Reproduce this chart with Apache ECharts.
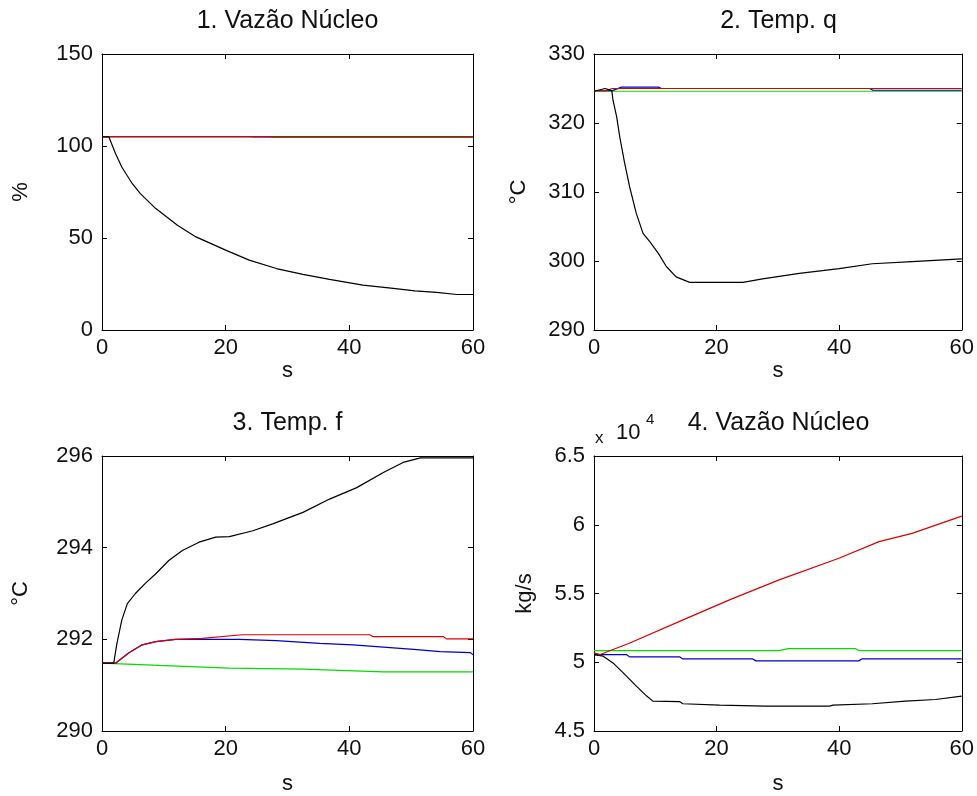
<!DOCTYPE html>
<html>
<head>
<meta charset="utf-8">
<script src="https://cdn.jsdelivr.net/npm/echarts@6/dist/echarts.min.js"></script>
<style>
html,body{margin:0;padding:0;background:#fff;}
#chart{width:977px;height:796px;}
</style>
</head>
<body>
<div id="chart"></div>
<script>
// ---- Data (time in s) ----
const titles = ['1. Vazão Núcleo', '2. Temp. q', '3. Temp. f', '4. Vazão Núcleo'];
const yNames = ['%', '°C', '°C', 'kg/s'];
const xName = 's';
const xTicks = [0, 20, 40, 60];
const yRanges = [[0, 150, 50], [290, 330, 10], [290, 296, 2], [45000, 65000, 5000]];

// Plot 1: core flow (%)
const p1Black = [[0,105],[1.1,105],[2.2,95.8],[3.2,88.6],[4.9,79.5],[6.2,74.1],[8.7,66],[12.2,56.9],[15.2,50.6],[20,43.4],[23.8,38],[28.2,33.4],[32.5,30.2],[36.8,27.5],[42.2,24.4],[47.1,22.6],[50.6,21.3],[54.1,20.4],[57.4,19.3],[60,19.3]];
const p1Blue = [[0,105.1],[24,105.1],[24.5,104.9],[27,104.9],[27.5,105.1],[60,105.1]];
const p1Red = [[0,105.1],[60,105.1]];
const p1Green = [[0,105.1],[27,105.1],[27.5,104.7],[60,104.7]];

// Plot 2: temperature q (°C)
const p2Black = [[0,324.6],[1.8,325],[2.9,324.7],[3.1,323.3],[3.7,320.9],[4.2,318],[5,314.2],[5.8,310.8],[6.9,306.9],[8,304],[9.1,302.8],[10.5,301.1],[11.8,299.2],[13.4,297.7],[15.6,296.9],[19.4,296.9],[24.3,296.9],[27.5,297.4],[33.5,298.2],[40,298.9],[45.4,299.6],[51.9,299.9],[60,300.3]];
const p2Blue = [[0,324.7],[3,324.7],[4.5,325.2],[10.5,325.2],[11,325.0],[45,325.0],[45.5,324.75],[60,324.75]];
const p2Red = [[0,324.7],[2,324.7],[3,325.0],[60,325.0]];
const p2Green = [[0,324.6],[60,324.6]];

// Plot 3: temperature f (°C)
const p3Black = [[0,291.48],[1.9,291.48],[2.4,291.9],[3.2,292.42],[4.1,292.78],[5.4,293.0],[7,293.22],[8.7,293.43],[10.8,293.72],[13,293.94],[15.7,294.12],[18.4,294.23],[20.6,294.24],[24.4,294.37],[27.6,294.52],[32.5,294.77],[36.8,295.06],[41.2,295.31],[45.5,295.64],[48.7,295.86],[51.5,295.96],[60,295.96]];
const p3Blue = [[0,291.48],[2.2,291.48],[4.3,291.7],[6.5,291.88],[8.7,291.95],[11.9,292.0],[16.2,292.0],[22.2,292.0],[28.2,291.97],[35.2,291.91],[40.6,291.88],[45.5,291.83],[50.4,291.78],[54.7,291.73],[59.6,291.71],[60,291.66]];
const p3Red = [[0,291.48],[2.2,291.48],[4.3,291.7],[6.5,291.88],[8.7,291.95],[11.9,292.0],[16.2,292.02],[22.7,292.1],[43.3,292.1],[43.8,292.06],[55.2,292.06],[55.7,292.01],[60,292.01]];
const p3Green = [[0,291.48],[9.2,291.43],[20.6,291.37],[32.5,291.35],[45.5,291.29],[60,291.29]];

// Plot 4: core flow (kg/s)
const p4Black = [[0,50560],[1.5,50440],[3.1,49950],[5.3,48990],[6.9,48260],[8.6,47540],[9.6,47170],[14,47130],[14.5,46980],[20.5,46880],[28,46810],[38.4,46810],[39,46880],[45.4,46980],[50.8,47170],[55.7,47290],[60,47540]];
const p4Blue = [[0,50560],[5.3,50560],[5.8,50390],[14,50390],[14.5,50240],[25.9,50240],[26.4,50100],[43.2,50100],[43.7,50240],[60,50240]];
const p4Red = [[0,50680],[1,50560],[5.85,51400],[13.97,52970],[22.1,54540],[30.2,55990],[39.96,57560],[46.5,58770],[51.9,59370],[60,60630]];
const p4Green = [[0,50850],[30.2,50850],[31.7,50990],[42.7,50990],[43.2,50850],[60,50850]];

const seriesData = [
  [p1Green, p1Blue, p1Red, p1Black],
  [p2Green, p2Blue, p2Red, p2Black],
  [p3Green, p3Blue, p3Red, p3Black],
  [p4Green, p4Blue, p4Red, p4Black]
];
const lineColors = ['#00dd00', '#0000cc', '#dd0000', '#000000'];

// ---- Layout ----
const FONT = 'Liberation Sans, Arial, sans-serif';
const grids = [
  {left: 102, top: 54, width: 371, height: 276},
  {left: 594, top: 54, width: 369, height: 276},
  {left: 102, top: 456, width: 371, height: 276},
  {left: 594, top: 456, width: 369, height: 276}
];
const xNameGaps = [30, 30, 42, 42];
const yNameGaps = [70, 64, 70, 58];

const xAxes = [], yAxes = [], series = [], graphics = [];
grids.forEach((g, i) => {
  const lineStyle = {color: '#000', width: 1};
  xAxes.push({
    type: 'value', gridIndex: i, min: 0, max: 60, interval: 20, position: 'bottom',
    name: xName, nameLocation: 'middle', nameGap: xNameGaps[i],
    nameTextStyle: {fontFamily: FONT, fontSize: 22, color: '#111'},
    axisLine: {show: true, onZero: false, lineStyle},
    axisTick: {show: true, inside: true, length: 5, lineStyle},
    axisLabel: {fontFamily: FONT, fontSize: 22, color: '#111', margin: 7, showMinLabel: true, showMaxLabel: true},
    splitLine: {show: false}
  });
  xAxes.push({
    type: 'value', gridIndex: i, min: 0, max: 60, interval: 20, position: 'top',
    axisLine: {show: true, onZero: false, lineStyle},
    axisTick: {show: true, inside: true, length: 5, lineStyle},
    axisLabel: {show: false}, splitLine: {show: false}
  });
  const r = yRanges[i];
  yAxes.push({
    type: 'value', gridIndex: i, min: r[0], max: r[1], interval: r[2], position: 'left',
    name: yNames[i], nameLocation: 'middle', nameGap: yNameGaps[i], nameRotate: 90,
    nameTextStyle: {fontFamily: FONT, fontSize: 22, color: '#111'},
    axisLine: {show: true, onZero: false, lineStyle},
    axisTick: {show: true, inside: true, length: 5, lineStyle},
    axisLabel: {fontFamily: FONT, fontSize: 22, color: '#111', margin: 9,
      formatter: i === 3 ? (v => String(Math.round(v / 1000) / 10)) : (v => String(v))},
    splitLine: {show: false}
  });
  yAxes.push({
    type: 'value', gridIndex: i, min: r[0], max: r[1], interval: r[2], position: 'right',
    axisLine: {show: true, onZero: false, lineStyle},
    axisTick: {show: true, inside: true, length: 5, lineStyle},
    axisLabel: {show: false}, splitLine: {show: false}
  });
  seriesData[i].forEach((d, k) => {
    series.push({
      type: 'line', xAxisIndex: 2 * i, yAxisIndex: 2 * i, data: d,
      showSymbol: false, symbol: 'none', animation: false, silent: true,
      lineStyle: {color: lineColors[k], width: 1.2}, z: 2 + k
    });
  });
  graphics.push({
    type: 'text', x: g.left + g.width / 2, y: g.top - 33,
    style: {text: titles[i], font: '25px ' + FONT, fill: '#111', align: 'center', verticalAlign: 'middle'}
  });
});

// exponent label for plot 4
graphics.push({type: 'text', x: 595, y: 438, style: {text: 'x', font: '17px ' + FONT, fill: '#111', align: 'left', verticalAlign: 'middle'}});
graphics.push({type: 'text', x: 616, y: 433, style: {text: '10', font: '22px ' + FONT, fill: '#111', align: 'left', verticalAlign: 'middle'}});
graphics.push({type: 'text', x: 646, y: 420, style: {text: '4', font: '15px ' + FONT, fill: '#111', align: 'left', verticalAlign: 'middle'}});

const chart = echarts.init(document.getElementById('chart'), null, {renderer: 'canvas'});
chart.setOption({
  backgroundColor: '#fff',
  animation: false,
  grid: grids,
  xAxis: xAxes,
  yAxis: yAxes,
  series: series,
  graphic: graphics
});
</script>
</body>
</html>
